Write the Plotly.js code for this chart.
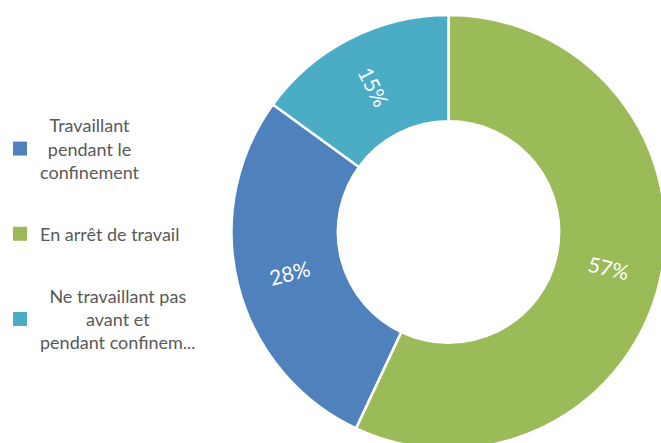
<!DOCTYPE html>
<html>
<head>
<meta charset="utf-8">
<script src="https://cdn.plot.ly/plotly-3.0.1.min.js"></script>
<style>
  html, body { margin: 0; padding: 0; overflow: hidden; background: #fff; }
  #chart { width: 680px; height: 460px; }
</style>
</head>
<body>
<div id="chart"></div>
<script>
// Data
const categories = [
  "Travaillant<br>pendant le<br>confinement",
  "En arrêt de travail",
  "Ne travaillant pas<br>avant et<br>pendant confinem..."
];
const values = [28, 57, 15];
const colors = ["#4F81BD", "#9BBB59", "#4BACC6"];

const FONT = "Lato, 'Open Sans', sans-serif";
const W = 680, H = 460;

// Counterclockwise: first slice spans [rotation, rotation + its share]; green ends at 12 o'clock
const total = values.reduce((a, b) => a + b, 0);
const startAngle = 360 * values[1] / total;
const HOLE = 0.51;
const domX = [231.5 / W, 665.5 / W];
const domY = [11 / H, 445 / H];

const pie = {
  type: "pie",
  labels: categories,
  values: values,
  sort: false,
  direction: "counterclockwise",
  rotation: startAngle,
  hole: HOLE,
  marker: { colors: colors, line: { color: "#ffffff", width: 2.5 } },
  textinfo: "none",
  showlegend: false,
  hoverinfo: "label+percent",
  domain: { x: domX, y: domY }
};

// Percent labels placed radially at the middle of each slice's ring
const cxPx = (domX[0] + domX[1]) / 2 * W;
const cyPx = H - (domY[0] + domY[1]) / 2 * H;
const R = Math.min((domX[1] - domX[0]) * W, (domY[1] - domY[0]) * H) / 2;
const rMid = R * (1 + HOLE) / 2;
const annotations = [];
let upper = startAngle + 360 * values[0] / total; // go counterclockwise from here
values.forEach((v, i) => {
  const span = 360 * v / total;
  const a1 = upper;
  const a0 = a1 - span;
  upper = a0;
  const midDeg = (a0 + a1) / 2;
  const mid = midDeg * Math.PI / 180;
  let ang = (midDeg - 90) % 360;
  if (ang < 0) ang += 360;
  if (ang > 90 && ang <= 270) ang -= 180;
  if (ang > 270) ang -= 360;
  const xPx = cxPx + rMid * Math.sin(mid);
  const yPx = cyPx - rMid * Math.cos(mid);
  annotations.push({
    xref: "paper", yref: "paper",
    x: xPx / W, y: (H - yPx) / H,
    xanchor: "center", yanchor: "middle",
    text: Math.round(100 * v / total) + "%",
    showarrow: false,
    textangle: ang,
    font: { family: FONT, size: 21, color: "#ffffff" }
  });
});

// Legend entries built from the same arrays; every entry gets three text lines
// so all entries have the same height and spacing
function padLines(label) {
  const lines = label.split("<br>");
  while (lines.length < 3) {
    lines.unshift("\u00A0");
    if (lines.length < 3) lines.push("\u00A0");
  }
  return lines.join("<br>");
}
const legendTraces = categories.map((c, i) => ({
  type: "scatter",
  mode: "markers",
  x: [null],
  y: [null],
  name: padLines(c),
  legendgroup: "g" + i,
  marker: { symbol: "square", size: 14, color: colors[i] },
  hoverinfo: "skip",
  showlegend: true
}));

const layout = {
  width: W,
  height: H,
  margin: { l: 0, r: 0, t: 0, b: 0 },
  paper_bgcolor: "#ffffff",
  plot_bgcolor: "#ffffff",
  font: { family: FONT, color: "#595959", size: 18 },
  xaxis: { visible: false },
  yaxis: { visible: false },
  showlegend: true,
  legend: {
    x: 0, xanchor: "left",
    y: (H - 107) / H, yanchor: "top",
    tracegroupgap: 12,
    font: { family: FONT, size: 18, color: "#595959" },
    bgcolor: "rgba(0,0,0,0)"
  },
  annotations: annotations,
  hovermode: false
};

// Center multi-line legend labels within their own block
function centerLegendText() {
  document.querySelectorAll("#chart .infolayer g[class^='legend'] text").forEach(t => {
    const lines = t.querySelectorAll("tspan.line");
    if (lines.length < 2) return;
    let maxW = 0;
    lines.forEach(l => { maxW = Math.max(maxW, l.getComputedTextLength()); });
    if (!maxW) return;
    const x0 = parseFloat(t.getAttribute("data-x0") || t.getAttribute("x")) || 0;
    t.setAttribute("data-x0", x0);
    t.setAttribute("text-anchor", "middle");
    lines.forEach(l => l.setAttribute("x", x0 + maxW / 2));
  });
}

const gd = document.getElementById("chart");
Plotly.newPlot(gd, [pie].concat(legendTraces), layout, { displayModeBar: false, staticPlot: true })
  .then(() => {
    centerLegendText();
    gd.on("plotly_afterplot", centerLegendText);
    requestAnimationFrame(centerLegendText);
    setTimeout(centerLegendText, 50);
    setTimeout(centerLegendText, 300);
  });
</script>
</body>
</html>
